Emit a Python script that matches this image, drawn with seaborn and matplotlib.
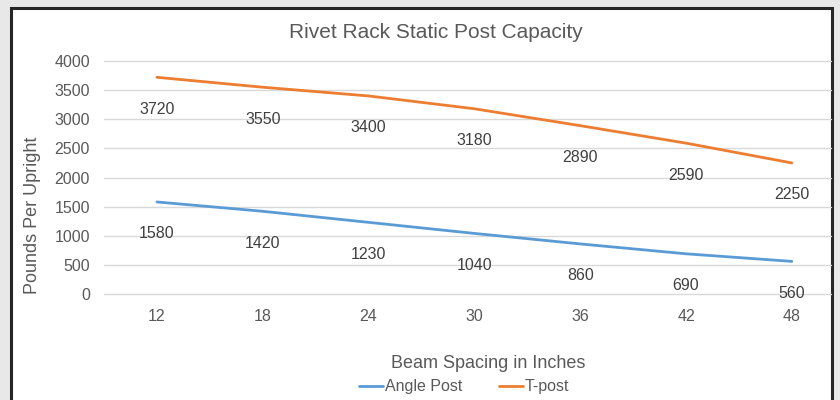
import seaborn as sns
import pandas as pd
import matplotlib.pyplot as plt
from matplotlib.patches import Rectangle

spacing = ["12", "18", "24", "30", "36", "42", "48"]
angle_post = [1580, 1420, 1230, 1040, 860, 690, 560]
t_post = [3720, 3550, 3400, 3180, 2890, 2590, 2250]
series = ["Angle Post", "T-post"]
colors = {"Angle Post": "#5B9BD5", "T-post": "#ED7D31"}
yticks = [0, 500, 1000, 1500, 2000, 2500, 3000, 3500, 4000]

df = pd.DataFrame({
    "Spacing": spacing * 2,
    "Pos": list(range(len(spacing))) * 2,
    "Pounds": angle_post + t_post,
    "Post": [series[0]] * len(spacing) + [series[1]] * len(spacing),
})

sns.set_style("white")
plt.rcParams["font.family"] = ["Liberation Sans", "DejaVu Sans"]
txt = "#595959"

fig = plt.figure(figsize=(8.4, 4.0), dpi=100)
fig.patch.set_facecolor("#e8e8e8")
# white card with dark border, like the Excel chart area
fig.patches.append(Rectangle((10.5 / 840, -0.1), 821 / 840, 1.1 - 7.5 / 400,
                             transform=fig.transFigure, facecolor="white",
                             edgecolor="#262626", linewidth=2.2, zorder=-5))

ax = fig.add_axes([104 / 840, 1 - 294 / 400, 727 / 840, 233 / 400])
ax.set_zorder(2)
ax.set_facecolor("none")
sns.lineplot(data=df, x="Pos", y="Pounds", hue="Post", palette=colors,
             linewidth=2.0, ax=ax, legend=False, hue_order=series)

for s, vals in zip(series, [angle_post, t_post]):
    for i, v in enumerate(vals):
        ax.annotate(str(v), (i, v), xytext=(0, -23), textcoords="offset points",
                    ha="center", va="center", fontsize=11.5, color="#404040")

ax.set_xlim(-0.5, 6.37)
ax.set_ylim(0, 4000)
ax.set_yticks(yticks)
ax.set_xticks(range(len(spacing)))
ax.set_xticklabels(spacing)
ax.tick_params(axis="both", length=0, labelsize=11.5, colors=txt)
ax.tick_params(axis="y", pad=10)
ax.tick_params(axis="x", pad=11)
ax.grid(axis="y", color="#d9d9d9", linewidth=1.0)
for gl in ax.get_ygridlines():
    gl.set_clip_on(False)
ax.set_axisbelow(True)
for sp in ax.spines.values():
    sp.set_visible(False)
ax.set_xlabel("")
ax.set_ylabel("")

fig.text(436 / 840, 1 - 33 / 400, "Rivet Rack Static Post Capacity",
         ha="center", va="center", fontsize=15, color=txt)
fig.text(488 / 840, 1 - 363 / 400, "Beam Spacing in Inches",
         ha="center", va="center", fontsize=13, color=txt)
fig.text(33 / 840, 1 - 215 / 400, "Pounds Per Upright", rotation=90,
         ha="center", va="center", fontsize=13, color=txt)

handles = [plt.Line2D([], [], color=colors[s], linewidth=2.0) for s in series]
leg = fig.legend(handles, series, loc="center", bbox_to_anchor=(464 / 840, 1 - 387 / 400),
                 ncol=2, frameon=False, fontsize=11.5, handlelength=1.5,
                 handletextpad=0.1, columnspacing=2.3, borderpad=0)
for t in leg.get_texts():
    t.set_color(txt)

fig.savefig("out.png", dpi=100, facecolor=fig.get_facecolor())
